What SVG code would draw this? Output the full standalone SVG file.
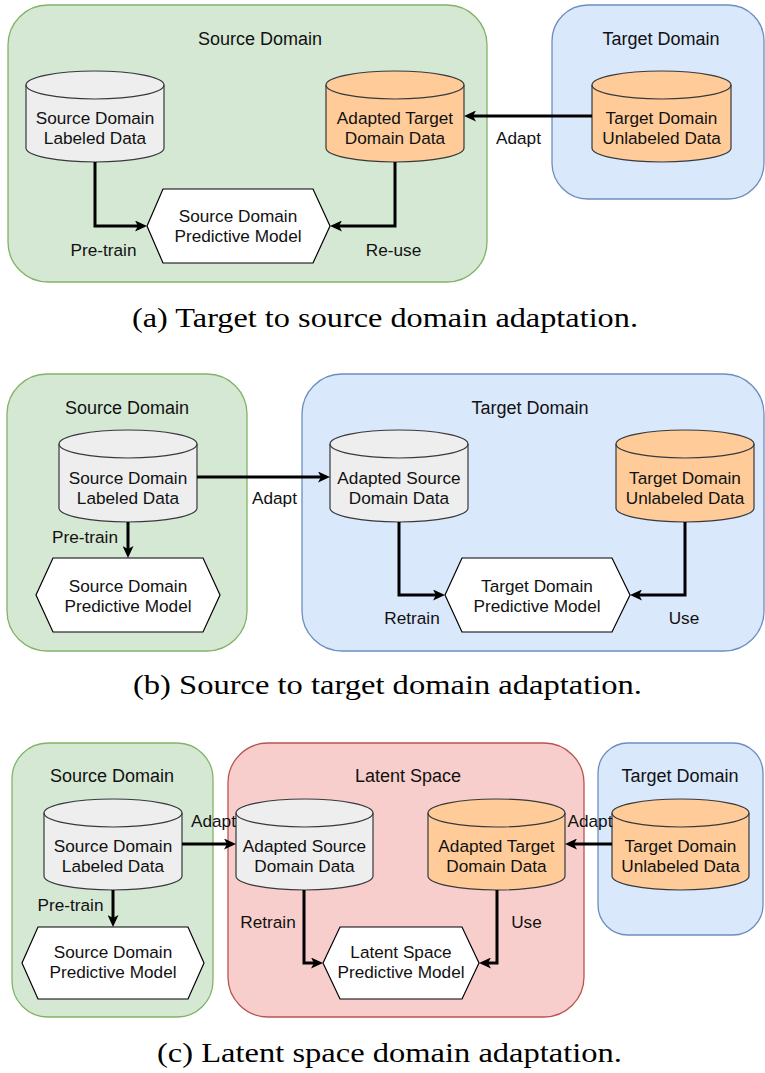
<svg xmlns="http://www.w3.org/2000/svg" width="765" height="1073" viewBox="0 0 765 1073">
<defs>
<style>
.grn{fill:#d5e8d4;stroke:#82b366;stroke-width:1.3}
.blu{fill:#dae8fc;stroke:#6c8ebf;stroke-width:1.3}
.red{fill:#f8cecc;stroke:#b85450;stroke-width:1.3}
.gray{fill:#eeeeee;stroke:#36393d;stroke-width:1.2}
.org{fill:#ffcc99;stroke:#36393d;stroke-width:1.2}
.rim{fill:none;stroke:#36393d;stroke-width:1.2}
.hex{fill:#ffffff;stroke:#000000;stroke-width:1.2}
.t{font-family:"Liberation Sans",Arial,Helvetica,sans-serif;font-size:17.2px;fill:#111;text-anchor:middle}
.ttl{font-family:"Liberation Sans",Arial,Helvetica,sans-serif;font-size:18px;fill:#111;text-anchor:middle}
.cap{font-family:"Liberation Serif","Times New Roman",serif;font-size:28px;fill:#000}
.c{fill:none;stroke:#000;stroke-width:3;marker-end:url(#ah)}
</style>
<marker id="ah" markerUnits="userSpaceOnUse" viewBox="0 0 12 11" refX="3" refY="5.5" markerWidth="12" markerHeight="11" orient="auto">
<path d="M0,0 L12,5.5 L0,11 L3,5.5 Z" fill="#000"/>
</marker>
</defs>

<!-- Panel (a) -->
<g id="a-source-domain">
<rect class="grn" x="8" y="5" width="479" height="277" rx="40"/>
<text class="ttl" x="260" y="45">Source Domain</text>
</g>
<g id="a-target-domain">
<rect class="blu" x="552" y="5" width="212" height="194" rx="36"/>
<text class="ttl" x="661" y="45">Target Domain</text>
</g>
<g id="a-source-data">
<path class="gray" d="M26,85 A69,14 0 0 1 164,85 V148 A69,14 0 0 1 26,148 Z"/>
<path class="rim" d="M26,85 A69,14 0 0 0 164,85"/>
<text class="t" x="95" y="124">Source Domain</text>
<text class="t" x="95" y="144">Labeled Data</text>
</g>
<g id="a-adapted-target">
<path class="org" d="M326,85 A69,14 0 0 1 464,85 V148 A69,14 0 0 1 326,148 Z"/>
<path class="rim" d="M326,85 A69,14 0 0 0 464,85"/>
<text class="t" x="395" y="124">Adapted Target</text>
<text class="t" x="395" y="144">Domain Data</text>
</g>
<g id="a-target-data">
<path class="org" d="M592,85 A69.5,14 0 0 1 731,85 V148 A69.5,14 0 0 1 592,148 Z"/>
<path class="rim" d="M592,85 A69.5,14 0 0 0 731,85"/>
<text class="t" x="661.5" y="124">Target Domain</text>
<text class="t" x="661.5" y="144">Unlabeled Data</text>
</g>
<g id="a-model">
<polygon class="hex" points="147,226 163,189 313,189 330,226 313,263 163,263"/>
<text class="t" x="238" y="222">Source Domain</text>
<text class="t" x="238" y="242">Predictive Model</text>
</g>

<!-- Panel (b) -->
<g id="b-source-domain">
<rect class="grn" x="7" y="374" width="240" height="277" rx="40"/>
<text class="ttl" x="127" y="414">Source Domain</text>
</g>
<g id="b-target-domain">
<rect class="blu" x="302" y="374" width="462" height="277" rx="40"/>
<text class="ttl" x="530" y="414">Target Domain</text>
</g>
<g id="b-source-data">
<path class="gray" d="M59,444 A69,14 0 0 1 197,444 V508 A69,14 0 0 1 59,508 Z"/>
<path class="rim" d="M59,444 A69,14 0 0 0 197,444"/>
<text class="t" x="128" y="484">Source Domain</text>
<text class="t" x="128" y="504">Labeled Data</text>
</g>
<g id="b-adapted-source">
<path class="gray" d="M330,444 A69,14 0 0 1 468,444 V508 A69,14 0 0 1 330,508 Z"/>
<path class="rim" d="M330,444 A69,14 0 0 0 468,444"/>
<text class="t" x="399" y="484">Adapted Source</text>
<text class="t" x="399" y="504">Domain Data</text>
</g>
<g id="b-target-data">
<path class="org" d="M616,444 A69,14 0 0 1 754,444 V508 A69,14 0 0 1 616,508 Z"/>
<path class="rim" d="M616,444 A69,14 0 0 0 754,444"/>
<text class="t" x="685" y="484">Target Domain</text>
<text class="t" x="685" y="504">Unlabeled Data</text>
</g>
<g id="b-source-model">
<polygon class="hex" points="36,595 53,558 203,558 220,595 203,632 53,632"/>
<text class="t" x="128" y="592">Source Domain</text>
<text class="t" x="128" y="612">Predictive Model</text>
</g>
<g id="b-target-model">
<polygon class="hex" points="445,595 462,558 612,558 630,595 612,632 462,632"/>
<text class="t" x="537" y="592">Target Domain</text>
<text class="t" x="537" y="612">Predictive Model</text>
</g>

<!-- Panel (c) -->
<g id="c-source-domain">
<rect class="grn" x="12" y="743" width="201" height="274" rx="36"/>
<text class="ttl" x="112" y="782">Source Domain</text>
</g>
<g id="c-latent-space">
<rect class="red" x="228" y="743" width="356" height="274" rx="40"/>
<text class="ttl" x="408" y="782">Latent Space</text>
</g>
<g id="c-target-domain">
<rect class="blu" x="598" y="743" width="165" height="192" rx="30"/>
<text class="ttl" x="680" y="782">Target Domain</text>
</g>
<g id="c-source-data">
<path class="gray" d="M44,813 A69,14 0 0 1 182,813 V876 A69,14 0 0 1 44,876 Z"/>
<path class="rim" d="M44,813 A69,14 0 0 0 182,813"/>
<text class="t" x="113" y="852">Source Domain</text>
<text class="t" x="113" y="872">Labeled Data</text>
</g>
<g id="c-adapted-source">
<path class="gray" d="M236,813 A68.5,14 0 0 1 373,813 V876 A68.5,14 0 0 1 236,876 Z"/>
<path class="rim" d="M236,813 A68.5,14 0 0 0 373,813"/>
<text class="t" x="304.5" y="852">Adapted Source</text>
<text class="t" x="304.5" y="872">Domain Data</text>
</g>
<g id="c-adapted-target">
<path class="org" d="M428,813 A68.5,14 0 0 1 565,813 V876 A68.5,14 0 0 1 428,876 Z"/>
<path class="rim" d="M428,813 A68.5,14 0 0 0 565,813"/>
<text class="t" x="496.5" y="852">Adapted Target</text>
<text class="t" x="496.5" y="872">Domain Data</text>
</g>
<g id="c-target-data">
<path class="org" d="M612,813 A68.5,14 0 0 1 749,813 V876 A68.5,14 0 0 1 612,876 Z"/>
<path class="rim" d="M612,813 A68.5,14 0 0 0 749,813"/>
<text class="t" x="680.5" y="852">Target Domain</text>
<text class="t" x="680.5" y="872">Unlabeled Data</text>
</g>
<g id="c-source-model">
<polygon class="hex" points="22,963 38,927 188,927 204,963 188,999 38,999"/>
<text class="t" x="113" y="958">Source Domain</text>
<text class="t" x="113" y="978">Predictive Model</text>
</g>
<g id="c-latent-model">
<polygon class="hex" points="323,963 340,927 462,927 479,963 462,999 340,999"/>
<text class="t" x="401" y="958">Latent Space</text>
<text class="t" x="401" y="978">Predictive Model</text>
</g>

<!-- Connectors -->
<g id="connectors">
<path class="c" d="M95,162 V226 H138"/>
<path class="c" d="M395,162 V226 H339"/>
<path class="c" d="M592,116 H473"/>
<path class="c" d="M128,522 V549"/>
<path class="c" d="M197,477 H321"/>
<path class="c" d="M399,522 V595 H436"/>
<path class="c" d="M685,522 V595 H639"/>
<path class="c" d="M113,890 V918"/>
<path class="c" d="M182,844 H227"/>
<path class="c" d="M304,890 V963 H314"/>
<path class="c" d="M497,890 V963 H488"/>
<path class="c" d="M612,844 H574"/>
</g>

<!-- Connector labels -->
<g id="labels">
<text class="t" x="103.5" y="256">Pre-train</text>
<text class="t" x="393.5" y="256">Re-use</text>
<text class="t" x="518.5" y="144">Adapt</text>
<text class="t" x="85" y="543">Pre-train</text>
<text class="t" x="274.5" y="504">Adapt</text>
<text class="t" x="412" y="624">Retrain</text>
<text class="t" x="684" y="624">Use</text>
<text class="t" x="70.5" y="911">Pre-train</text>
<text class="t" x="213.5" y="827">Adapt</text>
<text class="t" x="268" y="928">Retrain</text>
<text class="t" x="526.5" y="928">Use</text>
<text class="t" x="590" y="827">Adapt</text>
</g>

<!-- Captions -->
<g id="captions">
<text class="cap" x="132" y="327" textLength="506" lengthAdjust="spacingAndGlyphs">(a) Target to source domain adaptation.</text>
<text class="cap" x="133" y="694" textLength="509" lengthAdjust="spacingAndGlyphs">(b) Source to target domain adaptation.</text>
<text class="cap" x="157" y="1062" textLength="465" lengthAdjust="spacingAndGlyphs">(c) Latent space domain adaptation.</text>
</g>
</svg>
